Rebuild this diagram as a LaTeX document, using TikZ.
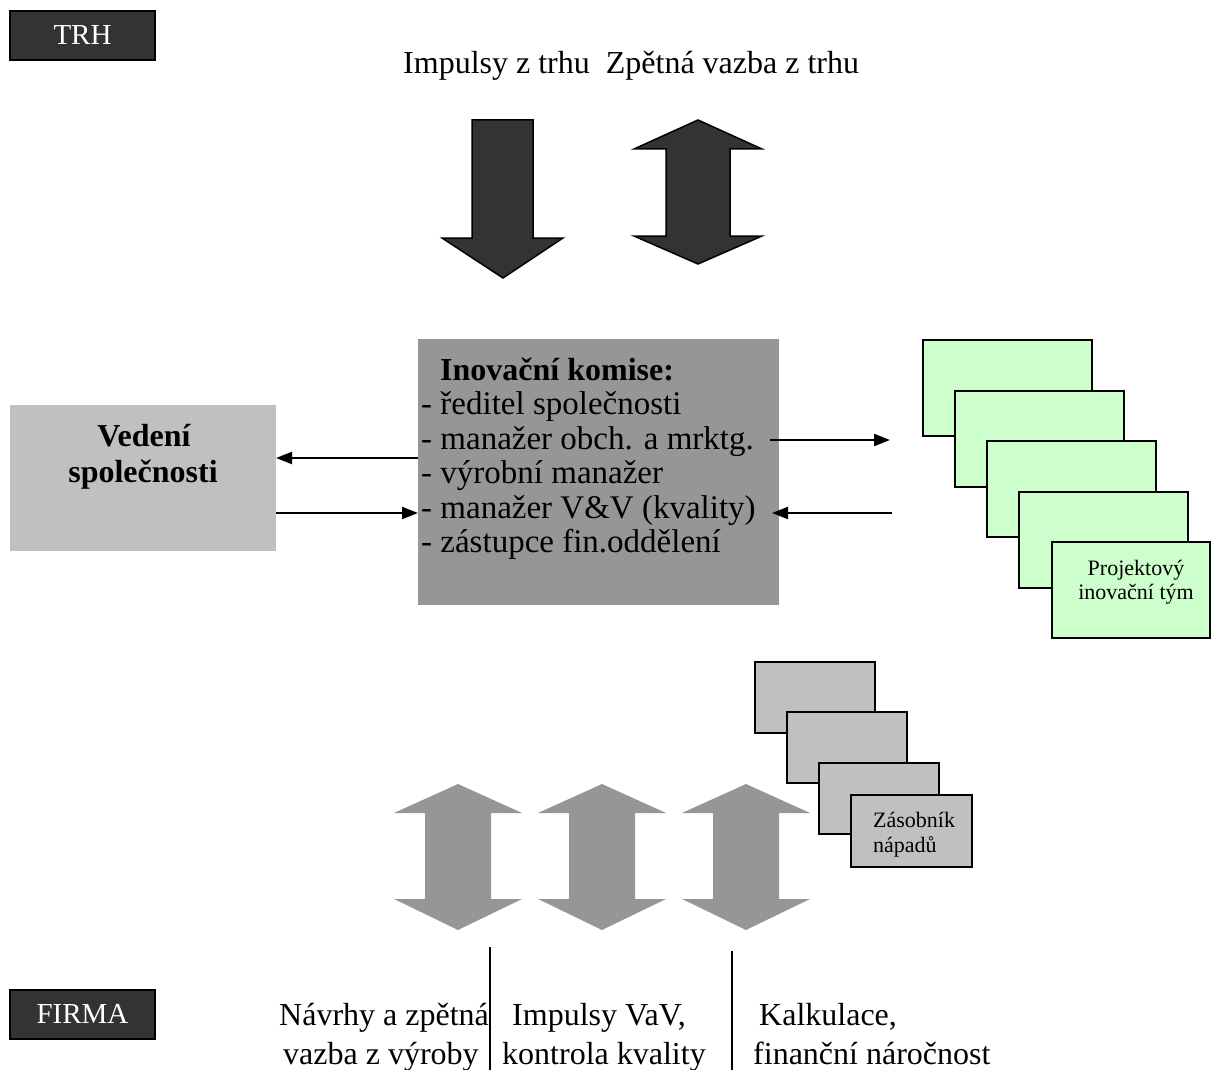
\documentclass[tikz,border=0pt]{standalone}
\usepackage{fontspec}
\setmainfont{Liberation Serif}
\usetikzlibrary{arrows.meta}
\definecolor{darkfill}{HTML}{333333}
\definecolor{midgray}{HTML}{969696}
\definecolor{lightgray}{HTML}{C0C0C0}
\definecolor{palegreen}{HTML}{CCFFCC}
\begin{document}
\begin{tikzpicture}[x=1pt,y=-1pt,
  txt/.style={inner sep=0pt, font=\fontsize{32}{35}\selectfont},
  listtxt/.style={inner sep=0pt, font=\fontsize{33}{36}\selectfont},
  boldtxt/.style={inner sep=0pt, font=\fontsize{32}{35}\selectfont\bfseries},
  smalltxt/.style={inner sep=0pt, font=\fontsize{22}{25}\selectfont},
  tagbox/.style={draw=black, line width=2pt, fill=darkfill, text=white,
    minimum width=145pt, minimum height=49pt, inner sep=0pt,
    font=\fontsize{29}{32}\selectfont},
  plainbox/.style={anchor=north west, inner sep=0pt, outer sep=0pt},
  teambox/.style={plainbox, draw=black, line width=1.5pt, fill=palegreen},
  ideabox/.style={plainbox, draw=black, line width=1.5pt, fill=lightgray},
  conn/.style={line width=2.2pt, -{Triangle[length=16pt,width=12pt]}},
  darkarrow/.style={draw=black, line width=1.5pt, fill=darkfill, line join=miter},
  greyarrow/.style={fill=midgray},
  divider/.style={line width=1.8pt}
]
\useasboundingbox (0,0) rectangle (1211,1070);

% market and company tags
\node[tagbox] (trh) at (82.5,35.5) {TRH};
\node[tagbox] (firma) at (82.5,1014) {FIRMA};

% market impulses and feedback
\node[txt, anchor=base west] (impulsy) at (403,74) {Impulsy z trhu\ \ Zpětná vazba z trhu};
\path[darkarrow] (472,120) -- (533,120) -- (533,238) -- (563,238) -- (503,278)
  -- (442,238) -- (472,238) -- cycle;
\path[darkarrow] (698,120) -- (762,149) -- (730,149) -- (730,236) -- (762,236)
  -- (698,264) -- (634,236) -- (666,236) -- (666,149) -- (634,149) -- cycle;

% company management
\node[plainbox, fill=lightgray, minimum width=266pt, minimum height=146pt] (vedeni) at (10,405) {};
\node[boldtxt, anchor=base] (vedeni1) at (144,446) {Vedení};
\node[boldtxt, anchor=base] (vedeni2) at (143,482) {společnosti};

% innovation committee
\node[plainbox, fill=midgray, minimum width=361pt, minimum height=266pt] (komise) at (418,339) {};
\node[boldtxt, anchor=base west] (k0) at (440,380) {Inovační komise:};
\node[listtxt, anchor=base west] (k1) at (421,414.5) {- ředitel společnosti};
\node[listtxt, anchor=base west] (k2) at (421,449) {- manažer obch. a mrktg.};
\node[listtxt, anchor=base west] (k3) at (421,483.5) {- výrobní manažer};
\node[listtxt, anchor=base west] (k4) at (421,518) {- manažer V\&V (kvality)};
\node[listtxt, anchor=base west] (k5) at (421,552.5) {- zástupce fin.oddělení};

% links between committee and management
\draw[conn] (komise.west |- 0,458) -- (vedeni.east |- 0,458);
\draw[conn] (vedeni.east |- 0,513) -- (komise.west |- 0,513);

% project teams stack
\node[teambox, minimum width=169pt, minimum height=96pt] (pt1) at (923,340) {};
\node[teambox, minimum width=169pt, minimum height=96pt] (pt2) at (955,391) {};
\node[teambox, minimum width=169pt, minimum height=96pt] (pt3) at (987,441) {};
\node[teambox, minimum width=169pt, minimum height=96pt] (pt4) at (1019,492) {};
\node[teambox, minimum width=158pt, minimum height=96pt] (pt5) at (1052,542) {};
\node[smalltxt, anchor=base] (team1) at (1136,575) {Projektový};
\node[smalltxt, anchor=base] (team2) at (1136,599) {inovační tým};

% links between committee and teams
\coordinate (toteam) at (890,440);
\coordinate (fromteam) at (892,513);
\draw[conn] ([xshift=-9pt]komise.east |- 0,440) -- (toteam);
\draw[conn] (fromteam) -- ([xshift=-7pt]komise.east |- 0,513);

% idea pool stack
\node[ideabox, minimum width=120pt, minimum height=71pt] (ib1) at (755,662) {};
\node[ideabox, minimum width=120pt, minimum height=71pt] (ib2) at (787,712) {};
\node[ideabox, minimum width=120pt, minimum height=71pt] (ib3) at (819,763) {};
\node[ideabox, minimum width=121pt, minimum height=72pt] (ib4) at (851,795) {};
\node[smalltxt, anchor=base west] (idea1) at (873,827) {Zásobník};
\node[smalltxt, anchor=base west] (idea2) at (873,852) {nápadů};

% internal impulses from the company
\foreach \c in {458,602,746}{
  \path[greyarrow] (\c,784) -- (\c+64,813) -- (\c+33,813) -- (\c+33,899)
    -- (\c+64,899) -- (\c,930) -- (\c-64,899) -- (\c-33,899)
    -- (\c-33,813) -- (\c-64,813) -- cycle;
}

% company sources
\draw[divider] (490,947) coordinate (d1a) -- (490,1070) coordinate (d1b);
\draw[divider] (732,951) coordinate (d2a) -- (732,1070) coordinate (d2b);
\node[txt, anchor=base west] (s1) at (279,1025) {Návrhy a zpětná};
\node[txt, anchor=base west] (s2) at (283,1064) {vazba z výroby};
\node[txt, anchor=base west] (s3) at (512,1025) {Impulsy VaV,};
\node[txt, anchor=base west] (s4) at (502,1064) {kontrola kvality};
\node[txt, anchor=base west] (s5) at (759,1025) {Kalkulace,};
\node[txt, anchor=base west] (s6) at (753,1064) {finanční náročnost};
\end{tikzpicture}
\end{document}
